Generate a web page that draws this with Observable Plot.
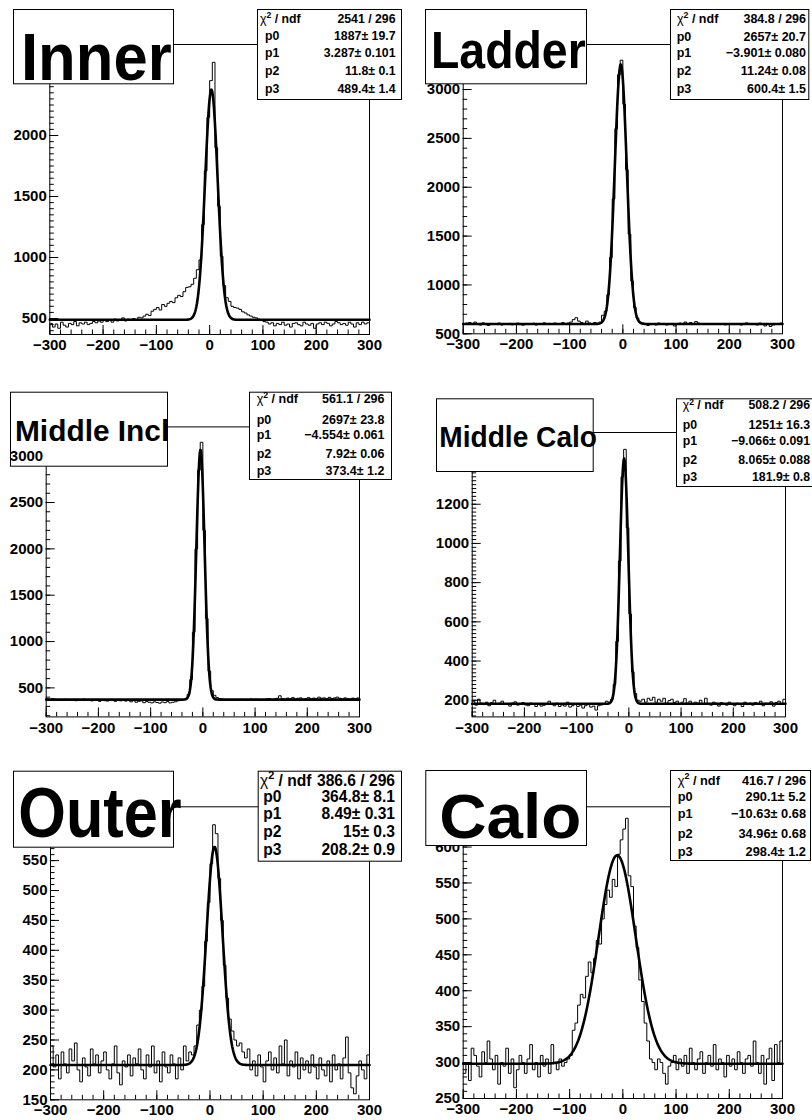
<!DOCTYPE html>
<html>
<head>
<meta charset="utf-8">
<script src="https://cdn.jsdelivr.net/npm/d3@7"></script>
<script src="https://cdn.jsdelivr.net/npm/@observablehq/plot@0.6"></script>
<style>
  body { margin: 0; background: #fff; }
  #page { position: relative; width: 812px; height: 1120px; overflow: hidden; background: #fff; }
  .cell { position: absolute; }
  #overlay { position: absolute; left: 0; top: 0; pointer-events: none; }
</style>
</head>
<body>
<div id="page"></div>
<script>
// ---------------- DATA ----------------
const panelNames = ["Inner", "Ladder", "Middle Incl", "Middle Calo", "Outer", "Calo"];

// histogram contents, 120 bins of width 5 between -300 and 300
const innerCounts = [460,430,455,420,470,445,430,460,450,475,440,465,455,470,450,460,475,465,480,470,490,475,485,470,495,480,490,505,480,495,485,500,490,510,505,
  520,535,525,560,575,590,570,615,600,625,640,630,670,690,680,720,755,760,780,830,900,980,1270,1710,2150,2450,2600,1900,1420,1010,770,670,640,600,590,585,575,555,545,530,520,510,505,495,490,475,
  470,455,465,440,460,450,470,445,455,430,460,465,450,440,470,455,445,460,420,455,465,450,470,460,440,455,475,465,450,460,445,470,455,430,465,450,470,455,465];
const ladderCounts = [595,610,615,600,620,605,590,612,598,585,605,600,595,610,590,602,598,606,592,600,610,595,588,604,600,596,608,590,602,600,612,598,605,595,610,600,598,615,605,610,620,645,665,630,615,605,630,610,605,615,605,620,
  690,730,900,1280,1880,2600,3150,3300,2850,2180,1520,1040,770,660,620,610,
  595,585,605,600,590,610,595,600,590,605,598,580,600,610,595,620,605,615,600,625,610,600,605,598,602,595,600,596,604,600,592,598,600,596,603,598,590,605,612,600,595,603,590,610,598,580,600,575,590,605,595,610];
const middleInclCounts = [380,370,385,365,375,372,368,378,365,370,375,362,370,368,380,365,372,360,368,375,355,370,362,358,372,365,355,368,360,372,358,365,350,362,345,355,360,340,352,345,338,350,342,335,348,340,352,338,345,350,360,365,
  372,385,430,590,1100,2000,2850,3150,2200,1250,680,470,420,395,385,378,
  372,368,375,370,365,372,376,368,375,370,380,372,378,370,375,368,380,385,375,380,388,415,385,378,390,382,395,380,388,392,378,385,395,382,390,385,400,388,392,380,398,385,392,400,388,380,392,385,378,390,382,392];
const middleCaloCounts = [195,175,205,185,178,190,172,188,200,180,185,195,178,182,170,186,192,175,180,188,176,172,185,180,168,178,170,174,182,195,180,172,185,168,176,170,190,165,172,178,168,175,160,172,178,165,170,150,172,176,180,195,
  190,205,280,500,910,1340,1480,1080,640,345,235,200,195,205,190,210,
  200,215,190,205,195,210,185,198,205,188,195,182,190,208,185,195,178,190,185,200,180,210,182,175,190,185,170,188,180,175,190,178,172,185,180,168,190,178,185,175,188,180,195,172,185,178,192,170,188,195,182,205];
const outerCounts = [240,205,225,185,230,210,195,235,215,245,200,180,220,205,190,235,210,225,195,215,230,200,185,210,240,195,175,215,205,225,190,220,210,235,200,185,225,205,240,195,215,180,230,205,195,225,210,185,220,200,240,
  215,230,225,240,275,300,340,415,480,545,610,595,520,450,375,320,285,265,250,240,245,230,
  220,235,200,215,190,225,205,180,215,230,200,220,195,240,210,250,190,215,205,230,185,220,200,215,195,225,205,185,220,200,190,215,180,225,200,210,185,220,255,195,170,160,190,215,200,185,225];
const caloCounts = [285,300,275,320,310,295,280,315,300,330,305,290,310,270,300,295,320,285,305,265,290,310,300,285,305,325,290,300,280,310,295,305,285,325,300,290,305,295,300,
  305,310,345,355,380,395,390,420,440,425,445,470,465,500,520,540,530,555,545,590,610,625,640,560,545,490,460,415,385,355,330,305,300,290,305,300,285,270,295,300,310,
  290,305,295,310,285,320,300,290,305,315,285,300,310,295,325,290,305,300,280,310,295,305,290,315,300,285,305,310,295,330,300,285,310,270,305,320,275,325,300,330];

// fit results (gaus + constant): p0, p1, p2, p3 and their errors
const innerFit = ["1887", "3.287", "11.8", "489.4"];
const innerErr = ["19.7", "0.101", "0.1", "1.4"];
const ladderFit = ["2657", "-3.901", "11.24", "600.4"];
const ladderErr = ["20.7", "0.080", "0.08", "1.5"];
const middleInclFit = ["2697", "-4.554", "7.92", "373.4"];
const middleInclErr = ["23.8", "0.061", "0.06", "1.2"];
const middleCaloFit = ["1251", "-9.066", "8.065", "181.9"];
const middleCaloErr = ["16.3", "0.091", "0.088", "0.8"];
const outerFit = ["364.8", "8.49", "15", "208.2"];
const outerErr = ["8.1", "0.31", "0.3", "0.9"];
const caloFit = ["290.1", "-10.63", "34.96", "298.4"];
const caloErr = ["5.2", "0.68", "0.68", "1.2"];
const chi2Ndf = ["2541 / 296", "384.8 / 296", "561.1 / 296", "508.2 / 296", "386.6 / 296", "416.7 / 296"];

// axes (tick labels that are visible in the reference)
const xTicks = [-300, -200, -100, 0, 100, 200, 300];
const xMinorStep = 20;
const innerYTicks = [500, 1000, 1500, 2000];
const ladderYTicks = [500, 1000, 1500, 2000, 2500, 3000];
const middleInclYTicks = [500, 1000, 1500, 2000, 2500, 3000];
const middleCaloYTicks = [200, 400, 600, 800, 1000, 1200];
const outerYTicks = [150, 200, 250, 300, 350, 400, 450, 500, 550];
const caloYTicks = [250, 300, 350, 400, 450, 500, 550, 600];
const yMajorSteps = [500, 500, 500, 200, 50, 50];
const yMinorSteps = [50, 100, 100, 20, 10, 10];
const yDomains = [[369, 2746], [500, 3461], [187, 3316], [115, 1566], [150, 640], [250, 656]];

// ---------------- LAYOUT (styles / positions) ----------------
const FONT = "'Liberation Sans', Arial, Helvetica, sans-serif";
const cells = [
  {x: 0, y: 0}, {x: 406, y: 0},
  {x: 0, y: 373.3}, {x: 406, y: 373.3},
  {x: 0, y: 746.7}, {x: 406, y: 746.7}
];
const cellW = 406, cellH = 373.3;
const frames = [ // page coords of the frame [left, top, right, bottom]
  [49.3, 44, 369, 334],
  [462.7, 44, 782, 333.3],
  [45.7, 426.7, 359, 716.7],
  [471.7, 432.3, 785, 716.7],
  [50, 806, 369, 1099],
  [462.7, 806, 782, 1097.7]
];
const labelsOnTop = [false, false, true, false, false, false];
const titleStyle = [
  {box: [13, 9, 173, 83.3], tx: 21, ty: 80, size: 67, sx: 0.92},
  {box: [425, 9, 586, 83.3], tx: 431, ty: 68.3, size: 51, sx: 0.91},
  {box: [10, 391.7, 167, 465.7], tx: 15, ty: 441, size: 29, sx: 1.03},
  {box: [436, 398.3, 592.7, 471], tx: 439.3, ty: 447.3, size: 29, sx: 0.97},
  {box: [13, 770.7, 173, 846.7], tx: 18.3, ty: 837.3, size: 70, sx: 0.875},
  {box: [425.3, 770, 586, 845], tx: 439.3, ty: 838.3, size: 63, sx: 1.04}
];
const statStyle = [
  {box: [257, 9, 401, 99], lx: 260, plx: 265, rx: 395.5, rows: [18.3, 36, 52.7, 70.7, 88.3], size: 12.3},
  {box: [670, 9, 808.3, 99], lx: 677, plx: 676.7, rx: 806, rows: [18.3, 36, 52.7, 70.7, 88.3], size: 12.5},
  {box: [249, 391.7, 391, 479], lx: 256.7, plx: 256.7, rx: 384.5, rows: [398.3, 419, 434.3, 453.3, 470], size: 12.5},
  {box: [676, 398.3, 816, 486], lx: 682.7, plx: 682.7, rx: 810, rows: [405, 424.3, 441, 460, 476.7], size: 12.3},
  {box: [257.7, 770.7, 401, 860.7], lx: 260, plx: 263.3, rx: 395, rows: [780, 796.7, 813.3, 831.7, 849.3], size: 15.6},
  {box: [670, 770, 810, 860], lx: 677.7, plx: 677.7, rx: 806, rows: [780, 796.7, 813.3, 833.3, 851], size: 12.8}
];

// ---------------- BUILD ----------------
const countsList = [innerCounts, ladderCounts, middleInclCounts, middleCaloCounts, outerCounts, caloCounts];
const fitList = [innerFit, ladderFit, middleInclFit, middleCaloFit, outerFit, caloFit];
const errList = [innerErr, ladderErr, middleInclErr, middleCaloErr, outerErr, caloErr];
const yTickList = [innerYTicks, ladderYTicks, middleInclYTicks, middleCaloYTicks, outerYTicks, caloYTicks];

const binCenters = d3.range(-297.5, 300, 5);
const fitGrid = d3.range(-300, 300.01, 1);
const minus = s => s.replace("-", "\u2212");
const fmtX = d => d < 0 ? "\u2212" + Math.abs(d) : String(d);
const axisStyle = {fontFamily: FONT, fontSize: "15px", fontWeight: "bold", color: "#000", background: "transparent", overflow: "visible"};

const page = document.getElementById("page");
const topLayers = [];

panelNames.forEach((name, k) => {
  const cell = cells[k], fr = frames[k];
  const mL = fr[0] - cell.x, mT = fr[1] - cell.y, mR = cell.x + cellW - fr[2], mB = cell.y + cellH - fr[3];
  const innerW = fr[2] - fr[0], innerH = fr[3] - fr[1];
  const counts = countsList[k];
  const hist = binCenters.map((x, i) => ({x, y: counts[i]}));
  hist.unshift({x: -300, y: counts[0]});
  hist.push({x: 300, y: counts[counts.length - 1]});
  const p = fitList[k].map(Number);
  const fit = fitGrid.map(x => ({x, y: p[0] * Math.exp(-0.5 * ((x - p[1]) / p[2]) ** 2) + p[3]}));
  const [y0, y1] = yDomains[k];
  const yLab = yTickList[k].filter(v => v >= y0 && v <= y1);
  const yMaj = d3.range(Math.ceil(y0 / yMajorSteps[k]) * yMajorSteps[k], y1 + 0.001, yMajorSteps[k]);
  const yMin = d3.range(Math.ceil(y0 / yMinorSteps[k]) * yMinorSteps[k], y1 + 0.001, yMinorSteps[k]);
  const xMin = d3.range(-300, 300.01, xMinorStep);
  const common = {
    width: cellW, height: cellH,
    marginLeft: mL, marginRight: mR, marginTop: mT, marginBottom: mB,
    x: {domain: [-300, 300], axis: null},
    y: {domain: [y0, y1], axis: null},
    style: axisStyle
  };
  const makeYAxis = () => Plot.axisY({ticks: yLab, tickSize: 0, tickPadding: 3, tickFormat: d => String(d), label: null});

  const svg = Plot.plot({
    ...common,
    marks: [
      Plot.tickX(xMin, {x: d => d, insetTop: innerH - 4.5, stroke: "#000", strokeWidth: 1}),
      Plot.tickX(xTicks, {x: d => d, insetTop: innerH - 9, stroke: "#000", strokeWidth: 1}),
      Plot.tickY(yMin, {y: d => d, insetRight: innerW - 4.5, stroke: "#000", strokeWidth: 1}),
      Plot.tickY(yMaj, {y: d => d, insetRight: innerW - 9, stroke: "#000", strokeWidth: 1}),
      Plot.line(hist, {x: "x", y: "y", curve: "step", stroke: "#000", strokeWidth: 1}),
      Plot.line(fit, {x: "x", y: "y", stroke: "#000", strokeWidth: 2.6}),
      Plot.frame({stroke: "#000", strokeWidth: 1}),
      Plot.axisX({ticks: xTicks, tickSize: 0, tickPadding: 5, tickFormat: fmtX, label: null}),
      labelsOnTop[k] ? null : makeYAxis()
    ]
  });
  const div = document.createElement("div");
  div.className = "cell";
  div.style.left = cell.x + "px";
  div.style.top = cell.y + "px";
  div.appendChild(svg);
  page.appendChild(div);

  if (labelsOnTop[k]) {
    const lab = Plot.plot({...common, marks: [makeYAxis()]});
    const d2 = document.createElement("div");
    d2.className = "cell";
    d2.style.left = cell.x + "px";
    d2.style.top = cell.y + "px";
    d2.style.pointerEvents = "none";
    d2.appendChild(lab);
    topLayers.push(d2);
  }
});

// overlay with title boxes and statistics boxes
const ov = d3.select(page).append("svg").attr("id", "overlay")
  .attr("width", 812).attr("height", 1120)
  .style("font-family", FONT).style("font-weight", "bold");

panelNames.forEach((name, k) => {
  const t = titleStyle[k];
  ov.append("rect").attr("x", t.box[0] + 0.5).attr("y", t.box[1] + 0.5)
    .attr("width", t.box[2] - t.box[0]).attr("height", t.box[3] - t.box[1])
    .attr("fill", "#fff").attr("stroke", "#000").attr("stroke-width", 1);
  ov.append("text").attr("transform", `translate(${t.tx},${t.ty}) scale(${t.sx},1)`)
    .attr("font-size", t.size).attr("fill", "#000").text(name);

  const s = statStyle[k];
  ov.append("rect").attr("x", s.box[0] + 0.5).attr("y", s.box[1] + 0.5)
    .attr("width", s.box[2] - s.box[0]).attr("height", s.box[3] - s.box[1])
    .attr("fill", "#fff").attr("stroke", "#000").attr("stroke-width", 1);
  const fs = s.size;
  const base = c => c + fs * 0.36;
  const chiT = ov.append("text").attr("x", s.lx).attr("y", base(s.rows[0])).attr("font-size", fs);
  chiT.append("tspan").attr("font-weight", "normal").text("\u03c7");
  chiT.append("tspan").attr("font-size", fs * 0.7).attr("dy", -fs * 0.4).text("2");
  chiT.append("tspan").attr("dy", fs * 0.4).text(" / ndf");
  ov.append("text").attr("x", s.rx).attr("y", base(s.rows[0])).attr("font-size", fs)
    .attr("text-anchor", "end").text(chi2Ndf[k]);
  for (let i = 0; i < 4; i++) {
    ov.append("text").attr("x", s.plx).attr("y", base(s.rows[i + 1])).attr("font-size", fs).text("p" + i);
    ov.append("text").attr("x", s.rx).attr("y", base(s.rows[i + 1])).attr("font-size", fs)
      .attr("text-anchor", "end").text(minus(fitList[k][i]) + "\u00b1 " + errList[k][i]);
  }
});
topLayers.forEach(d => page.appendChild(d));
</script>
</body>
</html>
